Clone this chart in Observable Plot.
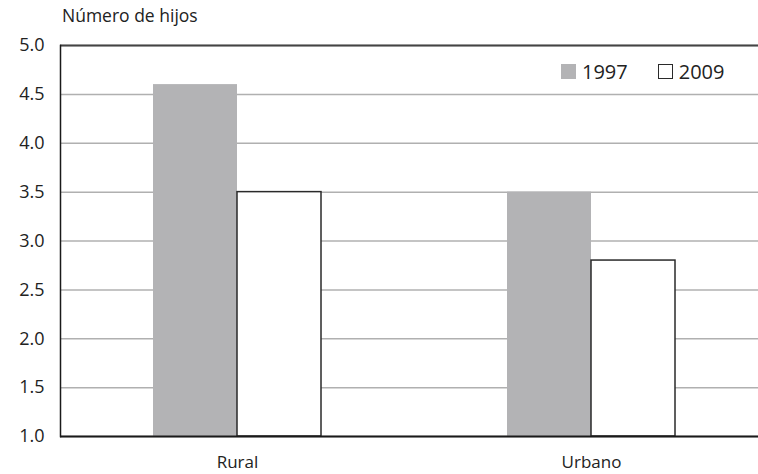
<!DOCTYPE html>
<html>
<head>
<meta charset="utf-8">
<script src="https://cdn.jsdelivr.net/npm/d3@7"></script>
<script src="https://cdn.jsdelivr.net/npm/@observablehq/plot@0.6"></script>
<style>
  html, body { margin: 0; padding: 0; background: #fff; }
  #wrap { position: relative; width: 758px; height: 474px; font-family: "Open Sans", sans-serif; color: #222; }
  #title { position: absolute; left: 62px; top: 4px; font-size: 17.5px; line-height: 22px; z-index: 2; }
  #chart { position: absolute; left: 0; top: 24px; z-index: 1; }
  #legend { position: absolute; left: 561px; top: 59px; font-size: 20px; line-height: 25px; display: flex; align-items: center; z-index: 2; }
  .sw { display: inline-block; width: 15px; height: 15px; box-sizing: border-box; margin-right: 6px; }
  .item { display: flex; align-items: center; margin-right: 30px; }
</style>
</head>
<body>
<div id="wrap">
  <div id="title">Número de hijos</div>
  <div id="chart"></div>
  <div id="legend"></div>
</div>
<script>
const categories = ["Rural", "Urbano"];
const years = ["1997", "2009"];
const values1997 = [4.6, 3.5];
const values2009 = [3.5, 2.8];
const yTicks = [1.0, 1.5, 2.0, 2.5, 3.0, 3.5, 4.0, 4.5, 5.0];
const yearFill = ["#b3b3b5", "#ffffff"];
const yearStroke = ["none", "#2a2a2a"];

const data1997 = categories.map((c, i) => ({cat: c, year: years[0], value: values1997[i]}));
const data2009 = categories.map((c, i) => ({cat: c, year: years[1], value: values2009[i]}));

const chart = Plot.plot({
  width: 758,
  height: 450,
  marginLeft: 60,
  marginRight: 0,
  marginTop: 21,
  marginBottom: 38,
  style: {fontFamily: "Open Sans, sans-serif", color: "#222", background: "transparent"},
  x: {domain: categories, range: [60, 768], padding: 0, label: null},
  y: {domain: [1, 5], label: null},
  marks: [
    Plot.gridY(yTicks, {stroke: "#b0b0b0", strokeOpacity: 1, strokeWidth: 1.5}),
    Plot.barY(data1997, {x: "cat", y1: 1, y2: "value", fill: yearFill[0], insetLeft: 93, insetRight: 177}),
    Plot.barY(data2009, {x: "cat", y1: 1, y2: "value", fill: yearFill[1], stroke: yearStroke[1], strokeWidth: 1.5, insetLeft: 177, insetRight: 93}),
    Plot.ruleY([5], {stroke: "#444", strokeWidth: 2}),
    Plot.ruleY([1], {stroke: "#1a1a1a", strokeWidth: 2}),
    Plot.frame({anchor: "left", stroke: "#1a1a1a", strokeWidth: 1.5}),
    Plot.axisY(yTicks, {tickSize: 0, tickPadding: 16, tickFormat: d3.format(".1f"), fontSize: 18, label: null}),
    Plot.axisX({tickSize: 0, tickPadding: 19, fontSize: 17, label: null})
  ]
});
document.getElementById("chart").appendChild(chart);

const legend = document.getElementById("legend");
years.forEach((y, i) => {
  const item = document.createElement("span");
  item.className = "item";
  const sw = document.createElement("span");
  sw.className = "sw";
  sw.style.background = yearFill[i];
  if (yearStroke[i] !== "none") sw.style.border = "1.5px solid " + yearStroke[i];
  item.appendChild(sw);
  item.appendChild(document.createTextNode(y));
  legend.appendChild(item);
});
</script>
</body>
</html>
